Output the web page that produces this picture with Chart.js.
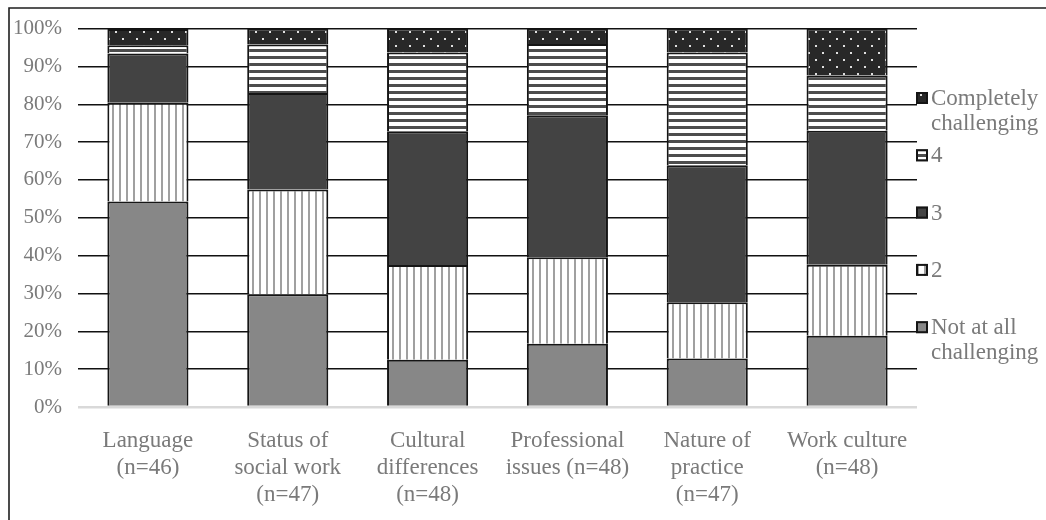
<!DOCTYPE html>
<html>
<head>
<meta charset="utf-8">
<style>
  html, body { margin: 0; padding: 0; background: #fff; }
  #wrap { width: 1046px; height: 520px; position: relative; }
</style>
<script src="https://cdn.jsdelivr.net/npm/chart.js@4/dist/chart.umd.min.js"></script>
</head>
<body>
<div id="wrap"><canvas id="c" width="1046" height="520"></canvas></div>
<script>
// Challenge categories (x axis)
const categories = [
  ['Language', '(n=46)'],
  ['Status of', 'social work', '(n=47)'],
  ['Cultural', 'differences', '(n=48)'],
  ['Professional', 'issues (n=48)'],
  ['Nature of', 'practice', '(n=47)'],
  ['Work culture', '(n=48)']
];

// Response levels, bottom to top of each stack
const seriesNames = [
  ['Not at all', 'challenging'],
  ['2'],
  ['3'],
  ['4'],
  ['Completely', 'challenging']
];

// Share of respondents (%) per level
const notAtAll    = [54.3, 29.8, 12.5, 16.7, 12.8, 18.8];
const level2      = [26.1, 27.7, 25.0, 22.9, 14.9, 18.8];
const level3      = [13.0, 25.5, 35.4, 37.5, 36.2, 35.4];
const level4      = [ 2.2, 12.8, 20.8, 18.8, 29.8, 14.6];
const completely  = [ 4.3,  4.3,  6.3,  4.2,  6.4, 12.5];

// Y axis tick values
const yTicks = [0, 10, 20, 30, 40, 50, 60, 70, 80, 90, 100];

const FONT = '"Liberation Serif", "Times New Roman", serif';
const TEXT = '#7a7a7a';

// ---- fill patterns ----
function makePattern(w, h, paint) {
  const cv = document.createElement('canvas');
  cv.width = w; cv.height = h;
  const g = cv.getContext('2d');
  paint(g, w, h);
  return g.createPattern(cv, 'repeat');
}
const ctx = document.getElementById('c').getContext('2d');

const fillNotAtAll = '#878787';
const fillLevel3 = '#434343';
const fillLevel2 = makePattern(7, 7, (g, w, h) => {
  g.fillStyle = '#ffffff'; g.fillRect(0, 0, w, h);
  g.fillStyle = '#a0a0a0'; g.fillRect(0, 0, 2, h);
});
const fillLevel4 = makePattern(7, 7, (g, w, h) => {
  g.fillStyle = '#ffffff'; g.fillRect(0, 0, w, h);
  g.fillStyle = '#4d4d4d'; g.fillRect(0, 0, w, 3);
});
const fillCompletely = makePattern(14, 14, (g, w, h) => {
  g.fillStyle = '#282828'; g.fillRect(0, 0, w, h);
  g.fillStyle = '#e0e0e0';
  g.fillRect(3, 3, 2, 2);
  g.fillRect(10, 10, 2, 2);
});

const fills = [fillNotAtAll, fillLevel2, fillLevel3, fillLevel4, fillCompletely];
const values = [notAtAll, level2, level3, level4, completely];

const datasets = seriesNames.map((name, i) => ({
  label: name.join(' '),
  lines: name,
  data: values[i],
  backgroundColor: fills[i],
  borderColor: '#151515',
  borderWidth: 2,
  borderSkipped: 'start',
  barPercentage: 0.58,
  categoryPercentage: 1.0
}));

// Outer frame (left and top edges) and the side legend
const framePlugin = {
  id: 'frame',
  afterDraw(chart) {
    const g = chart.ctx;
    g.save();
    g.strokeStyle = '#1e1e1e';
    g.lineWidth = 1.6;
    g.beginPath();
    g.moveTo(9, 520); g.lineTo(9, 8); g.lineTo(1046, 8);
    g.stroke();
    g.restore();
  }
};

const sideLegend = {
  id: 'sideLegend',
  afterDraw(chart) {
    const g = chart.ctx;
    const ds = chart.data.datasets.slice().reverse();
    const x0 = chart.chartArea.right - 1;
    const size = 12;
    const lineH = 24.5;
    const step = 57.3;
    let y = 98;
    g.save();
    g.font = '23px ' + FONT;
    g.textBaseline = 'middle';
    g.textAlign = 'left';
    ds.forEach(d => {
      g.fillStyle = d.backgroundColor;
      g.fillRect(x0, y - size / 2, size, size);
      g.strokeStyle = '#151515';
      g.lineWidth = 2;
      g.strokeRect(x0 + 1, y - size / 2 + 1, size - 2, size - 2);
      g.fillStyle = TEXT;
      d.lines.forEach((t, k) => g.fillText(t, x0 + size + 3, y + k * lineH + 1));
      y += step;
    });
    g.restore();
  }
};

new Chart(ctx, {
  type: 'bar',
  data: { labels: categories, datasets },
  options: {
    responsive: false,
    animation: false,
    layout: { padding: { left: 0, right: 129, top: 26, bottom: 0 } },
    plugins: { legend: { display: false }, tooltip: { enabled: false } },
    scales: {
      x: {
        stacked: true,
        grid: { display: false },
        border: { display: false },
        ticks: {
          autoSkip: false, maxRotation: 0,
          color: TEXT, padding: 13,
          font: { family: FONT, size: 23, lineHeight: 1.16 }
        },
        afterFit(s) { s.height = 113; }
      },
      y: {
        stacked: true,
        min: 0, max: 100,
        afterBuildTicks(s) { s.ticks = yTicks.map(v => ({ value: v })); },
        grid: {
          drawTicks: false,
          color: c => c.tick && c.tick.value === 0 ? '#d9d9d9' : '#111111',
          lineWidth: c => c.tick && c.tick.value === 0 ? 2.5 : 1.4
        },
        border: { display: false },
        ticks: {
          color: TEXT, padding: 16,
          font: { family: FONT, size: 21 },
          callback: v => v + '%'
        },
        afterFit(s) { s.width = 78; }
      }
    }
  },
  plugins: [framePlugin, sideLegend]
});
</script>
</body>
</html>
